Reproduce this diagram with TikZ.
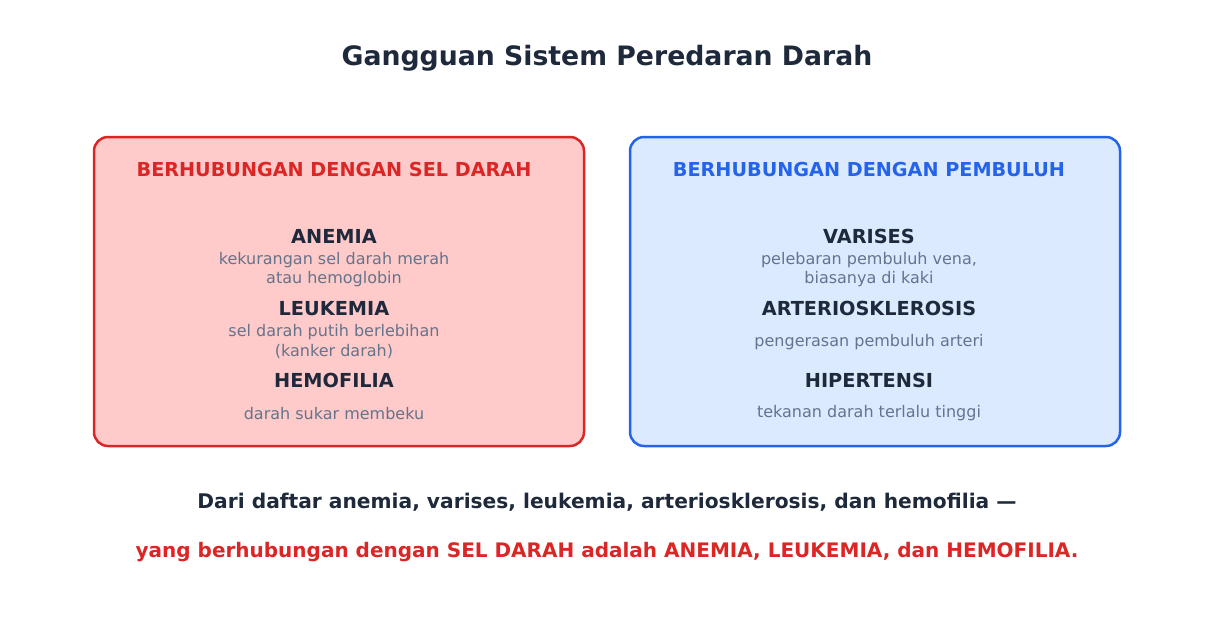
\documentclass[tikz,border=0pt]{standalone}
\usepackage{fontspec}
\setmainfont{DejaVu Sans}
\definecolor{bg}{HTML}{FFFFFF}
\definecolor{dark}{HTML}{1E293B}
\definecolor{grey}{HTML}{64748B}
\definecolor{redS}{HTML}{DC2626}
\definecolor{redF}{HTML}{FECACA}
\definecolor{bluS}{HTML}{2563EB}
\definecolor{bluF}{HTML}{DBEAFE}
\begin{document}
\begin{tikzpicture}[x=1pt,y=-1pt,
  every node/.style={inner sep=0pt, anchor=center, align=center, yshift=-1.5pt},
  title/.style={font=\fontsize{26.7}{30}\selectfont\bfseries, text=dark},
  head/.style={font=\fontsize{19.2}{22}\selectfont\bfseries},
  item/.style={font=\fontsize{19.3}{22}\selectfont\bfseries, text=dark},
  desc/.style={font=\fontsize{16}{19}\selectfont, text=grey},
  bottom/.style={font=\fontsize{20.2}{22}\selectfont\bfseries},
  panel/.style={line width=2.5pt, rounded corners=14pt}]
\useasboundingbox[fill=bg] (0,0) rectangle (1214,629);
\node[title] (t) at (607,57) {Gangguan Sistem Peredaran Darah};
\draw[panel, draw=redS, fill=redF] (94,137) rectangle (584,446);
\draw[panel, draw=bluS, fill=bluF] (630,137) rectangle (1120,446);
\node[head, text=redS] (hl) at (334,168) {BERHUBUNGAN DENGAN SEL DARAH};
\node[head, text=bluS] (hr) at (869,168) {BERHUBUNGAN DENGAN PEMBULUH};
\node[item] (a) at (334,235) {ANEMIA};
\node[desc] (ad1) at (334,259) {kekurangan sel darah merah};
\node[desc] (ad2) at (334,278) {atau hemoglobin};
\node[item] (l) at (334,307) {LEUKEMIA};
\node[desc] (ld1) at (334,331) {sel darah putih berlebihan};
\node[desc] (ld2) at (334,350) {(kanker darah)};
\node[item] (h) at (334,379) {HEMOFILIA};
\node[desc] (hd) at (334,412) {darah sukar membeku};
\node[item] (v) at (869,235) {VARISES};
\node[desc] (vd1) at (869,259) {pelebaran pembuluh vena,};
\node[desc] (vd2) at (869,278) {biasanya di kaki};
\node[item] (ar) at (869,307) {ARTERIOSKLEROSIS};
\node[desc] (ard) at (869,341) {pengerasan pembuluh arteri};
\node[item] (hi) at (869,379) {HIPERTENSI};
\node[desc] (hid) at (869,412) {tekanan darah terlalu tinggi};
\node[bottom, text=dark] (b1) at (607,501) {Dari daftar anemia, varises, leukemia, arteriosklerosis, dan hemofilia —};
\node[bottom, text=redS, font=\fontsize{20}{22}\selectfont\bfseries] (b2) at (607,551) {yang berhubungan dengan SEL DARAH adalah ANEMIA, LEUKEMIA, dan HEMOFILIA.};
\end{tikzpicture}
\end{document}
